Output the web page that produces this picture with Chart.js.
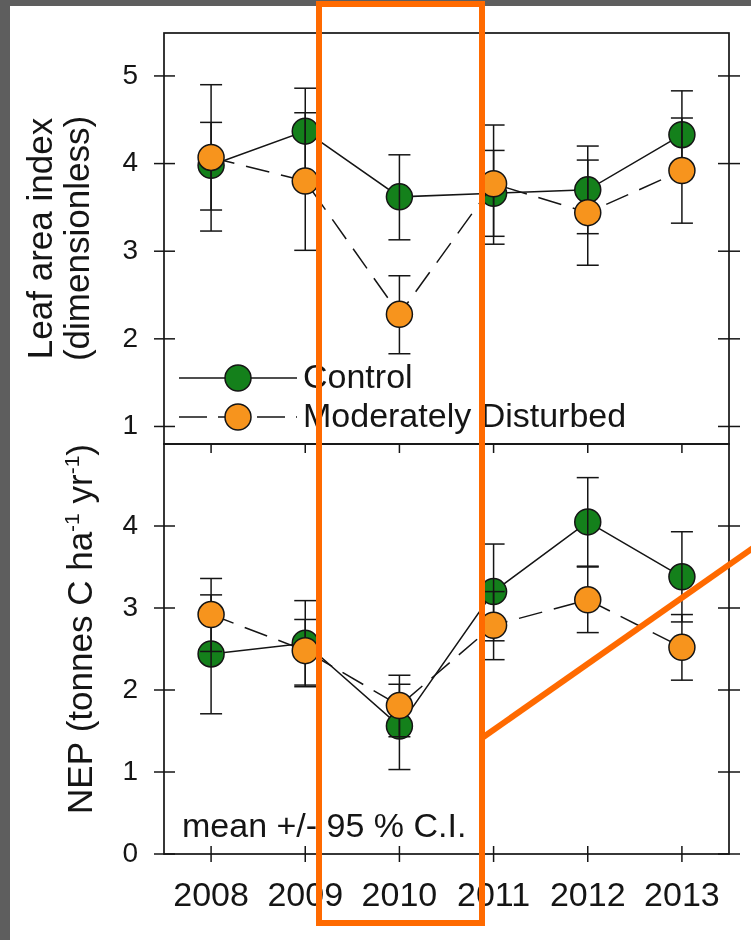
<!DOCTYPE html>
<html>
<head>
<meta charset="utf-8">
<script src="https://cdn.jsdelivr.net/npm/chart.js@4.4.0/dist/chart.umd.min.js"></script>
<style>
html,body{margin:0;padding:0;}
body{width:751px;height:940px;background:#5e5e5e;position:relative;overflow:hidden;}
#paper{position:absolute;left:10px;top:6px;right:0;bottom:0;background:#fff;}
#c1{position:absolute;left:0;top:0;}
#c2{position:absolute;left:0;top:420px;}
#mark{position:absolute;left:0;top:0;}
</style>
</head>
<body>
<div id="paper"></div>
<canvas id="c1" width="751" height="470"></canvas>
<canvas id="c2" width="751" height="520"></canvas>
<svg id="mark" width="751" height="940">
  <rect x="319" y="4" width="163" height="919" fill="none" stroke="#ff6a00" stroke-width="6"/>
  <line x1="482" y1="738" x2="770" y2="536" stroke="#ff6a00" stroke-width="6"/>
</svg>
<script>
const years = ['2008', '2009', '2010', '2011', '2012', '2013'];

// leaf area index (top panel)
const laiControl     = [3.98, 4.37, 3.62, 3.66, 3.70, 4.33];
const laiControlLo   = [3.47, 3.88, 3.13, 3.17, 3.20, 3.83];
const laiControlHi   = [4.47, 4.86, 4.10, 4.15, 4.20, 4.83];
const laiDisturbed   = [4.07, 3.80, 2.28, 3.77, 3.44, 3.92];
const laiDisturbedLo = [3.23, 3.01, 1.83, 3.08, 2.84, 3.32];
const laiDisturbedHi = [4.90, 4.58, 2.72, 4.44, 4.04, 4.52];
const laiTicks = [1, 2, 3, 4, 5];

// NEP (bottom panel)
const nepControl     = [2.44, 2.57, 1.56, 3.20, 4.05, 3.38];
const nepControlLo   = [1.71, 2.04, 1.03, 2.60, 3.51, 2.83];
const nepControlHi   = [3.16, 3.09, 2.07, 3.78, 4.59, 3.93];
const nepDisturbed   = [2.92, 2.48, 1.81, 2.79, 3.10, 2.52];
const nepDisturbedLo = [2.47, 2.06, 1.43, 2.37, 2.70, 2.12];
const nepDisturbedHi = [3.36, 2.86, 2.18, 3.20, 3.50, 2.92];
const nepTicks = [0, 1, 2, 3, 4];

const seriesNames = ['Control', 'Moderately Disturbed'];

const FONT = '"Liberation Sans", Arial, sans-serif';
const INK = '#151515';
const GREEN = '#14801b';
const ORANGE = '#f7941d';

function seg(ctx, x1, y1, x2, y2) {
  ctx.beginPath(); ctx.moveTo(x1, y1); ctx.lineTo(x2, y2); ctx.stroke();
}

function dot(ctx, x, y, fill) {
  ctx.beginPath(); ctx.arc(x, y, 13, 0, Math.PI * 2);
  ctx.fillStyle = fill; ctx.fill();
  ctx.lineWidth = 1.5; ctx.strokeStyle = INK; ctx.stroke();
}

// text rotated -90deg, centred on cy, baseline at bx; parts can be superscript
function vText(ctx, bx, cy, parts, size) {
  ctx.save();
  ctx.translate(bx, cy);
  ctx.rotate(-Math.PI / 2);
  ctx.fillStyle = INK;
  ctx.textBaseline = 'alphabetic';
  let total = 0;
  parts.forEach(p => {
    ctx.font = (p.sup ? 21 : size) + 'px ' + FONT;
    p.w = ctx.measureText(p.t).width;
    total += p.w;
  });
  let x = -total / 2;
  parts.forEach(p => {
    ctx.font = (p.sup ? 21 : size) + 'px ' + FONT;
    ctx.fillText(p.t, x, p.sup ? -13 : 0);
    x += p.w;
  });
  ctx.restore();
}

const panelPlugin = {
  id: 'panel',
  beforeDatasetDraw(chart, args, opts) {
    if (args.index !== 1) return;
    const {ctx, scales} = chart;
    ctx.save();
    ctx.strokeStyle = INK;
    ctx.lineWidth = 1.5;
    opts.bars.forEach(b => {
      b.lo.forEach((lo, i) => {
        const x = scales.x.getPixelForValue(i);
        const y1 = scales.y.getPixelForValue(lo);
        const y2 = scales.y.getPixelForValue(b.hi[i]);
        seg(ctx, x, y1, x, y2);
        seg(ctx, x - 11, y1, x + 11, y1);
        seg(ctx, x - 11, y2, x + 11, y2);
      });
    });
    ctx.restore();
  },
  afterDraw(chart, args, opts) {
    const {ctx, chartArea: a, scales} = chart;
    ctx.save();
    ctx.strokeStyle = INK;
    ctx.lineWidth = 1.7;
    ctx.strokeRect(a.left, a.top, a.right - a.left, a.bottom - a.top);
    ctx.lineWidth = 1.5;
    scales.y.ticks.forEach((t, i) => {
      const y = scales.y.getPixelForTick(i);
      seg(ctx, a.left - 10, y, a.left + 11, y);
      seg(ctx, a.right - 11, y, a.right + 11, y);
    });
    if (opts.xTicks) {
      scales.x.ticks.forEach((t, i) => {
        const x = scales.x.getPixelForTick(i);
        seg(ctx, x, a.top, x, a.top + 9);
        seg(ctx, x, a.bottom - 8, x, a.bottom + 8);
      });
    }
    vText(ctx, opts.title.x, (a.top + a.bottom) / 2 + opts.title.dy, opts.title.parts, 35);
    if (opts.title2) {
      vText(ctx, opts.title2.x, (a.top + a.bottom) / 2 + opts.title2.dy, opts.title2.parts, 35);
    }
    ctx.font = '34px ' + FONT;
    ctx.fillStyle = INK;
    if (opts.legend) {
      const ds = chart.data.datasets;
      ds.forEach((d, i) => {
        const y = 378 + i * 39;
        ctx.strokeStyle = INK;
        ctx.lineWidth = 1.5;
        ctx.setLineDash(i === 1 ? [28, 11] : []);
        seg(ctx, 179, y, 297, y);
        ctx.setLineDash([]);
        dot(ctx, 238, y, d.pointBackgroundColor);
        ctx.fillStyle = INK;
        ctx.font = '34px ' + FONT;
        ctx.fillText(d.label, 303, y + 10);
      });
    }
    if (opts.note) {
      ctx.fillText(opts.note, 182, a.bottom - 17);
    }
    ctx.restore();
  }
};

function makeDatasets(ctrl, dist) {
  return [
    {
      label: seriesNames[0], data: ctrl, order: 2,
      borderColor: INK, borderWidth: 1.5, tension: 0, fill: false,
      pointRadius: 13, pointHoverRadius: 13, pointBorderWidth: 1.5,
      pointBorderColor: INK, pointBackgroundColor: GREEN
    },
    {
      label: seriesNames[1], data: dist, order: 1,
      borderColor: INK, borderWidth: 1.5, borderDash: [24, 12], tension: 0, fill: false,
      pointRadius: 13, pointHoverRadius: 13, pointBorderWidth: 1.5,
      pointBorderColor: INK, pointBackgroundColor: ORANGE
    }
  ];
}

// invisible tick marks only push the labels away from the frame
function hiddenGrid(len) {
  return {display: true, drawOnChartArea: false, drawTicks: true, tickLength: len, tickColor: 'rgba(0,0,0,0)'};
}

new Chart(document.getElementById('c1'), {
  type: 'line',
  data: {labels: years, datasets: makeDatasets(laiControl, laiDisturbed)},
  options: {
    responsive: false, animation: false, devicePixelRatio: 1, events: [],
    layout: {padding: {top: 33, right: 22, left: 0, bottom: 0}},
    scales: {
      x: {
        type: 'category', offset: true, grid: {display: false, drawTicks: false}, border: {display: false},
        ticks: {display: false},
        afterFit(s) { s.height = 26; }
      },
      y: {
        min: 0.8, max: 5.49, grid: hiddenGrid(26), border: {display: false},
        afterBuildTicks(s) { s.ticks = laiTicks.map(v => ({value: v})); },
        ticks: {font: {family: FONT, size: 28}, color: INK, padding: 0},
        afterFit(s) { s.width = 164; }
      }
    },
    plugins: {
      legend: {display: false}, tooltip: {enabled: false},
      panel: {
        bars: [{lo: laiControlLo, hi: laiControlHi}, {lo: laiDisturbedLo, hi: laiDisturbedHi}],
        xTicks: false,
        legend: true,
        title: {x: 52, dy: 0, parts: [{t: 'Leaf area index'}]},
        title2: {x: 89, dy: 0, parts: [{t: '(dimensionless)'}]}
      }
    }
  },
  plugins: [panelPlugin]
});

new Chart(document.getElementById('c2'), {
  type: 'line',
  data: {labels: years, datasets: makeDatasets(nepControl, nepDisturbed)},
  options: {
    responsive: false, animation: false, devicePixelRatio: 1, events: [],
    layout: {padding: {top: 24, right: 22, left: 0, bottom: 0}},
    scales: {
      x: {
        type: 'category', offset: true, grid: hiddenGrid(22), border: {display: false},
        ticks: {font: {family: FONT, size: 34}, color: INK, padding: 0, autoSkip: false, maxRotation: 0},
        afterFit(s) { s.height = 86; }
      },
      y: {
        min: 0, max: 5, grid: hiddenGrid(26), border: {display: false},
        afterBuildTicks(s) { s.ticks = nepTicks.map(v => ({value: v})); },
        ticks: {font: {family: FONT, size: 28}, color: INK, padding: 0},
        afterFit(s) { s.width = 164; }
      }
    },
    plugins: {
      legend: {display: false}, tooltip: {enabled: false},
      panel: {
        bars: [{lo: nepControlLo, hi: nepControlHi}, {lo: nepDisturbedLo, hi: nepDisturbedHi}],
        xTicks: true,
        note: 'mean +/- 95 % C.I.',
        title: {x: 92, dy: -20, parts: [
          {t: 'NEP (tonnes C ha'}, {t: '-1', sup: true}, {t: ' yr'}, {t: '-1', sup: true}, {t: ')'}
        ]}
      }
    }
  },
  plugins: [panelPlugin]
});
</script>
</body>
</html>
